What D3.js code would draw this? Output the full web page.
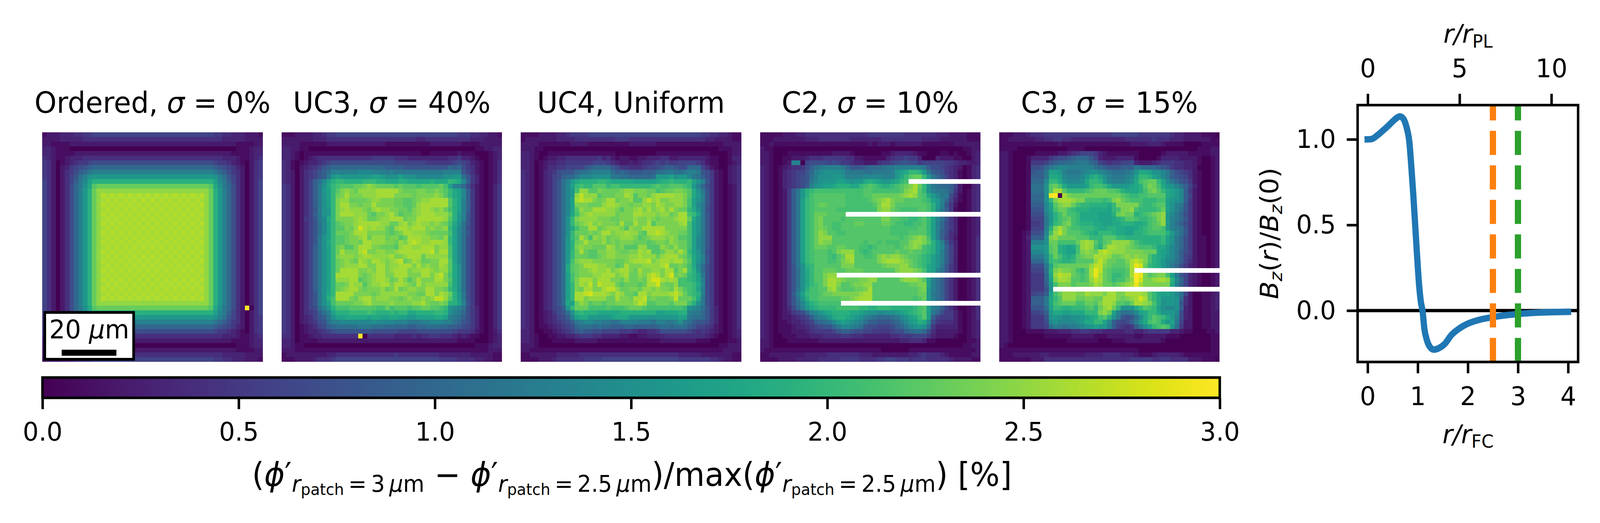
<!DOCTYPE html>
<html><head><meta charset="utf-8">
<script src="https://cdnjs.cloudflare.com/ajax/libs/d3/7.8.5/d3.min.js"></script>
<style>html,body{margin:0;padding:0;background:#fff;width:100%;height:100%;overflow:hidden}svg{display:block;width:100vw;height:100vh}text{font-family:"DejaVu Sans";fill:#000;white-space:pre}</style>
</head><body><svg id="c" viewBox="0 0 4269 1340" preserveAspectRatio="none"></svg>
<script>
// Each character is one cell, value = index in levelChars x 0.1 (percent); Q = 2.65; "." = no data.
const levelChars = "0123456789abcdefghijklmnopqrstu";
const panelTitles = [["Ordered, ","σ"," = 0%"],["UC3, ","σ"," = 40%"],["UC4, Uniform"],["C2, ","σ"," = 10%"],["C3, ","σ"," = 15%"]];

const gridOrdered = [
"122233344556 6666666666666666666666666 655443332221",
"222233333444 4444444444444444444444444 444333332222",
"221111222222 2222222222222222222222222 222222111122",
"332111000000 0000000000000000000000000 000000111233",
"332111122222 2222222222222222222222222 222221111233",
"432112333444 4444444444444444444444444 444333211234",
"542012345567 7777777777777777777777777 765543210245",
"54202356789a aaaaaaaaaaaaaaaaaaaaaaaaa a98765320245",
"542024579acd ddddddddddddddddddddddddd dca975420245",
"54202468bdfg ggggggggggggggggggggggggg gfdb86420245",
"64202469cehj jjjjjjjjjjjjjjjjjjjjjjjjj jhec96420246",
"6420247acfim nnnnnnnnnnnnnnnnnnnnnnnnn mifca7420246",
"6420247adgjn ppppppppppppppppppppppppp njgda7420246",
"6420247adgjnp QqQqQqQqQqQqQqQqQqQqQqQ pnjgda7420246",
"6420247adgjnp qQqQqQqQqQqQqQqQqQqQqQq pnjgda7420246",
"6420247adgjnp QqQqQqQqQqQqQqQqQqQqQqQ pnjgda7420246",
"6420247adgjnp qQqQqQqQqQqQqQqQqQqQqQq pnjgda7420246",
"6420247adgjnp QqQqQqQqQqQqQqQqQqQqQqQ pnjgda7420246",
"6420247adgjnp qQqQqQqQqQqQqQqQqQqQqQq pnjgda7420246",
"6420247adgjnp QqQqQqQqQqQqQqQqQqQqQqQ pnjgda7420246",
"6420247adgjnp qQqQqQqQqQqQqQqQqQqQqQq pnjgda7420246",
"6420247adgjnp QqQqQqQqQqQqQqQqQqQqQqQ pnjgda7420246",
"6420247adgjnp qQqQqQqQqQqQqQqQqQqQqQq pnjgda7420246",
"6420247adgjnp QqQqQqQqQqQqQqQqQqQqQqQ pnjgda7420246",
"6420247adgjnp qQqQqQqQqQqQqQqQqQqQqQq pnjgda7420246",
"6420247adgjnp QqQqQqQqQqQqQqQqQqQqQqQ pnjgda7420246",
"6420247adgjnp qQqQqQqQqQqQqQqQqQqQqQq pnjgda7420246",
"6420247adgjnp QqQqQqQqQqQqQqQqQqQqQqQ pnjgda7420246",
"6420247adgjnp qQqQqQqQqQqQqQqQqQqQqQq pnjgda7420246",
"6420247adgjnp QqQqQqQqQqQqQqQqQqQqQqQ pnjgda7420246",
"6420247adgjnp qQqQqQqQqQqQqQqQqQqQqQq pnjgda7420246",
"6420247adgjnp QqQqQqQqQqQqQqQqQqQqQqQ pnjgda7420246",
"6420247adgjnp qQqQqQqQqQqQqQqQqQqQqQq pnjgda7420246",
"6420247adgjnp QqQqQqQqQqQqQqQqQqQqQqQ pnjgda7420246",
"6420247adgjnp qQqQqQqQqQqQqQqQqQqQqQq pnjgda7420246",
"6420247adgjnp QqQqQqQqQqQqQqQqQqQqQqQ pnjgda7420246",
"6420247adgjn ppppppppppppppppppppppppp njgda7420246",
"6420247acfim nnnnnnnnnnnnnnnnnnnnnnnnn mifca742u046",
"64202469cehj jjjjjjjjjjjjjjjjjjjjjjjjj jhec96420246",
"54202468bdfg ggggggggggggggggggggggggg gfdb86420245",
"542024579acd ddddddddddddddddddddddddd dca975420245",
"54202356789a aaaaaaaaaaaaaaaaaaaaaaaaa a98765320245",
"542012345567 7777777777777777777777777 765543210245",
"432112333444 4444444444444444444444444 444333211234",
"332111122222 2222222222222222222222222 222221111233",
"332111000000 0000000000000000000000000 000000111233",
"221111222222 2222222222222222222222222 222222111122",
"222233333444 4444444444444444444444444 444333332222",
"122233344556 6666666666666666666666666 655443332221"];

const gridUC3 = [
"1112222334 5566666666 6666666666 6666666665 554433221",
"2222222333 4444444444 4444444444 3344444444 443332222",
"2222111111 2222222222 2221111111 1112222222 111122222",
"3322110000 0000000000 0000000000 0000000000 000112233",
"3321011111 1111111111 1111111111 1001111112 111000123",
"3321012344 4444444444 5555544433 3333333445 332100123",
"4310123345 6777777777 7777766666 6655555567 653210124",
"4310234568 9aaaaaaaaa aaa9999888 8888888a9a 754210124",
"4320245689 bddddddeee dddcdccccc ccccccdddd 864210124",
"4320245689 cghggggggg hhgfffhfff eeeeeeffgg b85310124",
"43202469be hjkkjjjjkk kjjiiijjii iiijiiikji e95310124",
"54202469cf iklmmmnnop onnnnmnmmm lmmmmnlhdc a74210135",
"54202469cg hkmoponppp pqqqqqonnn oonnonmkih e95210135",
"54202469cf hknoqooopp pqqqqoooon oooopomkih e95210135",
"54202469cf hkoppnnnno ppooonnmmn oppqqqqmjh d95210135",
"54202469cf hkoqqoonoo qoooonnmmn pqqqqqqmjh d95210135",
"54202468cf gkopqpppon pqppoonnmo pqqpopnljh d95210135",
"54202469cf gkoqqqpppn moopqomnno pqqqpppnjg d85210135",
"54202568ce ikoooopqpn noppqqqnoo qqqqqqpmjg d85210135",
"54202468be hkmnoopqqq qqppnnpqop qppoponlif b85210135",
"54202468be hkmmonpsqp qppnmpqqpq qqopoopkhe b75210135",
"54202468be hknnnoqqqo ooonmnoqqp pponnnnlhe b85210135",
"54202468cf hkmmnoopqn pppnoomnqq qppoonpkhe b75210135",
"54202468cf ikmmnoonqq pppoonpoqr qppqqqpkhe b75210135",
"54202469cf hknommoqqq oonnnmpqqp pqqqopplhe b75210135",
"54202469cf hknqoooqro oppoopqqqq qqqroqqlhe b75210135",
"54202469cf hkopppopqq ppppqoopqq qnppppplhe b75210135",
"54202469cf hknoponqpo qqpopqrnoq pnnooqqmhe b75210135",
"54202469cf hknopppqqo oqqoppqqqo qopooqpmif b75210135",
"54202469cf hknqqqqoop oqqopqqqop pqqpoppmif b75210135",
"54202469cf hkqqqqqono pqqooqqqoo oqqoqrolif b75210135",
"54202469cf hkpppqqmno pqqpnoqomo qoooqqomif b75210135",
"54202469cf hknnoqppmo ppqqoqqpon qoppppplif b75210135",
"54202469cf hknopqqono oopnoqnopp ooqqoonkif b75210135",
"54202468cf ikqqqqoooo noppppppoo nnqqoqpnjg c75210135",
"54202468cf jlqqqonpqq opppoonopo opoprrpmjg c75210135",
"54202468cf hlnnnnoopq oooopoooop pqonnonjjh d85210135",
"54202467bd gjlllmmmmm mllnlmmmlm mnnmmlkfed b75310135",
"5420245 69b dhjjjkkkkl kjjjkjkkii jjjjkkjfdc a75310135",
"5420234689 cfhhiiiiih iihhiihhgg hhhhiihdcb 975310135",
"5420234578 bddeeeeeee feeeedddcc cddeeeddba 875310135",
"5420123467 9abbbbbccc bbbaaaaa99 aabbbaa998 765310135",
"5420123345 6788888888 7777776666 7777777765 554210124",
"4420112334 4444444u04 4444433334 3445544432 321100123",
"3320111122 2222222222 2222222222 2222222221 111000123",
"3321100000 0000000000 0000000000 0000000000 000111233",
"2221111111 1111111111 1111111111 1111111111 111111222",
"1222222222 3344444444 4444454444 4444433333 332222211",
"1112222344 4566666666 6666666666 6666655554 444332211"];

const gridUC4 = [
"1111222233 4555566666 6666666666 6666666666 554433211",
"1222222233 3344444444 4555444444 4444444444 433222211",
"2222111111 1222211111 1111222222 1111111111 111112222",
"2221100000 0000000000 0000000000 0000000000 000011122",
"3321001111 1111111111 1000000000 1111111111 110000122",
"3321012233 4444444534 2122112233 3442233333 321100133",
"3320123344 5555556665 4322323445 6565566665 421100123",
"3320124455 666689aaaa 8755444566 7899877aaa 642100234",
"4320134578 88abbcdddd b9a9888999 bbccbbcddc 875210234",
"4320134679 aaceeeffff ccbbaaaaab ggghfggecb 975210234",
"432013468b dgijjjjkkj iiiiihhhhh ijjkjjjkhf d85210234",
"432013468b ehklkkmmmk llkkkkkkkl mllmmmlkgd a75210124",
"432013468b eglppmmonn nnoppooonn lmnnoonmif c85210124",
"432013468b egprpppmnn nooqpmoonp qqqqppomig d85210124",
"432013468b ehqrqqonoq qnoopmmprp qoopppolhf d85210124",
"432013468b ehooonnnpq qpoonooppo qpooppolhe c85210124",
"432013468b ehmpooqqqp pomoopqoqo pqoqonnkif c75210124",
"432013468b eilopqpppp pnoooqqppp oppnoqqlkh c85210124",
"432013468b fkoppppooo nnooopoopo nooopqqnif c85210124",
"432013468b fknopqopoo onqnnqooqm ooooopqlhf c85210124",
"432013468b filnnqqnop ppompooqqq qqooooolhf c85210124",
"432013468b fknnnonoqq oppqppnmqq rqpoonnlhf c85210124",
"432013468b gkmqolpopn oopppomnop ppopommlhe c85210124",
"432013468b gjnoqooopn onooonnnmn oonponnlhe c85210124",
"432013468b gjopoonnnq pnommmppmm mponpnnlhe c85210124",
"432013468b gknqnmmoop ponnooqpqm mnppoqokhf c75210124",
"432013468b gknnnmmnop poooppqppp npqqqonlig d85210124",
"432013468b glopppoooo onnopqqqro pqqpqqomif d85210124",
"432013468b imnoqqqppo omnqoooppp pqrnnonlie b75210124",
"432013468b imnoopqppq opqqonqoop poqqmoqljf b75210124",
"432013468b hlnoooppqq qopqnnpoqr qoqsnonkjh c75210124",
"432013468b hloqqqoqqq oonpnnonqs sqpqpllkjh d75210124",
"432013468b hkoqprorqq qnmnnnmnqq sonnplllki e75210124",
"432013468b hkonqqooqr rpnnoonppo poonqomlkh d75210124",
"432013468b hkqqrsqqqp oqpnnmqqop pppqrpnlkj d75210124",
"432013468b hkqqoppppn nqoonqqrno nnnornnnli c75210124",
"432013468b ihnpomnnmn nooooprqmm nnnmoooljf c75210124",
"4320134679 gknnnllllm lllmnnnmll llllllkfed b85310124",
"4320123578 bfjkjjjiii iijjjjjjjj hhiiijjdcc a85310124",
"4320123467 9dhiiggggg hiiiggggff ggggghhcbb a85310124",
"4320123456 79cdeeddcc bbddddcccb ddccdfcb98 875310124",
"4320112345 67abbbabaa 999aa99999 abbabbb986 654210124",
"3320011234 5689887766 6655543344 5777777654 543210123",
"3321001122 3345554433 3322112233 3344444444 432100123",
"3321000111 1122222111 1111111111 1222222221 110000112",
"2221000000 0000000000 0000000000 0000000000 000011222",
"2211111111 1111111111 1111111111 1111111111 111112222",
"1122222233 3334444444 4444444444 4444433333 222222211",
"1111222344 4444555566 6666666666 6666655555 554432211"];

const gridC2 = [
"1111122233 4444444444 4444555555 5544444443 332222111",
"1112222222 3334444444 3333333444 4444443333 222222111",
"1121111111 1111111111 1111212221 2222221111 111222222",
"2110000000 0000000000 0000000000 0000000000 000001122",
"2210001111 1111112222 1000000112 3333211000 110100123",
"2210011222 3444555554 4221111134 5565530003 222110023",
"2210012dd0 6777767655 4332224556 7887756666 655433223",
"3210123445 79bcddddca 8889aaabcc ddddddc977 654320134",
"3210134566 8adeffffec cccbbccccd ghikkjgc98 754310134",
"3210134567 8bdfffggfd dddeeeeddd gikmnnkgca 864310134",
"3210134567 8cefggghhg fggijihggh ikl....... .........",
"3210134567 9dfghhijjj iiklmlkjjk lmnoqnkfcb aa9620034",
"32101259cg jkllllllll lllmmlllll lmopqmkfdc cb9520134",
"32101259cg jlmmmmmmml lllmmnnnnn nopqpmlige cc7410134",
"32101259ch klmmmmmmml llllmnopqo nnmmmmlkhg da6310134",
"32101259ch klmnnmmmml lllllmoqqo mmmmmmmljg d85200134",
"32101259ch klmmmmmlll lllllloppn mllllmmljf c95100134",
"32101259ch klnnnmmmm. .......... .......... .........",
"32101259ch klnommmmlm mmmmmmmoom mllkklmkhe b85300123",
"32101259ch klnommllmm mnnmmmmnnm llkkllmkhd a75300123",
"32101259ch klnonmllmm mmmmmmmmml lllllmmkhd a75300123",
"32101259ch klnpommllm mmmmmmmmml lllmmmmkhd 974300123",
"32101259ch klnpppmmmm mmmmmmmmmm mlmnopolhd 964200124",
"32101259ch klnpoommmm mmmlmmlmll lmmoppomjg d85300124",
"32101259ch klnnnmmnnm mmllklmmmm lmnopolkjg e96300124",
"32101259ch klmmmlmopp pmlklmmmmm nmmnmmlkjg d96300124",
"32101259ch klmmmlkmnq qmmllmopop ponmmlkjhf d96300124",
"32101259ch klmmmllmop qmmmmmopqq qponmlkjhf d96300124",
"32101258cf jkmmmmmmoo ommmmmmnoo oppnmlkihf c85300124",
"32101258bf ikmmnnnmmn nnnmmmmmmm oppponlihd b85300124",
"32101258bf ikmmopp... .......... .......... .........",
"32101258bf ikmmoqqpon nnooppmmmm mopppomhdb 964200124",
"32101258bf iklmoqqomm nooppmmmmm mmmnnoohdb 964200124",
"32101258cf jllmmpqnmm mnnoqmmmmm mmmmmnogdb 964200124",
"32101259dh kllmnnoooo oopqqmmmmm mmmmmnngcb 964200124",
"32101258cg jllmmmmmnn opqqqmmmmm mmmmlmngdb 964200124",
"32101258be hjklllll.. .......... .......... .........",
"32101247ad gijkkkklll llkkjjkkkj jjjjklmhdc 964200124",
"3210123567 adeghijjjj iihgffeeff ghijklmhca 755310124",
"3210122345 69cdegijji hgfdcbaaab cefhikmh96 555310124",
"3210112334 569abceghg fedb998889 aceghjie75 444310123",
"3210111233 456788acee dcb8776667 9acefgfb53 333310123",
"3210111222 3455556899 8776655556 779abba742 222210123",
"3210011122 2333444455 4443333334 4555666532 222100123",
"2210001111 1112222222 2222222222 2334443110 000000112",
"2210000000 0000000000 0000000000 0000000000 000001122",
"2111111111 1111111111 1111111000 0001111111 111111112",
"1122222222 3333344444 4433322222 2223345444 321111122",
"1111222233 3334444455 5544445566 5554555444 443222211"];

const gridC3 = [
"1112223444 5555555555 5555566666 6555555543 322221110",
"1122222233 4455443333 3333333344 4444544433 322222211",
"1111111111 1112111111 1111111112 2223332111 100001111",
"1111000000 0000011110 0000000000 0000000000 000011122",
"2210000011 1112234566 6532111111 1000001222 221111122",
"2210001333 3567789aaa 8632223333 1000013333 222210012",
"2210001555 689aabbccc a965455667 3222345554 433210012",
"2210001778 acdeeddddd dba9888999 cbaaa98754 433200012",
"2210001899 chhgdcccde ffedcbbbcd fiihffec97 654210012",
"2210001999 ciihedddeg ijhfdcccde hkkjhgec98 764210012",
"2210001aaa ekkifeeefi kkjgedddef ilmnnkheca 875210012",
"2210001bbb fmnliggggh kllkiggggh ijmonligfd b96310012",
"2210001bbb fmqqmkkkkl mnnnmmljii ijlnomkihg e95210012",
"2210001aaa fuu0qonnnn nnnnnnnmlk kllmmmmihg e96210012",
"2210001aaa fkoqqqpool lllklopnml llkkkllhgf e95210012",
"2210001999 ehmoppnlkk jjjjikoooo olkklmmhfd c85210012",
"2210001888 ehlnnlkjjj iiiihkloop lkkkklnhfd b85210012",
"2210001777 dgjlnllkii iihhhjnonn jklmnopgec a75210012",
"2210001666 cgjlmnlkii iihhhijkmm lkklmopgdc a85210012",
"2210001556 cgklnolkjj jiihhiijjj iijlmnpgdb 975210012",
"2210001666 djoqomllkk kjiijjiihh ijklmmlgdc b85210012",
"2210012778 elprommmlk jikkkjiihh jjklllljgd b85210012",
"2210013999 fopnnnnmmm kkkmmmkkjj jjjjjjkhfc a75211012",
"2210012ddd fnnllllnpq pmkmnppppn lkjjjjkhfc a75211012",
"2210012fff gmnjihilpq pljnqqppon mlllkiigec a75211012",
"2210012eee gmnjihhlop onqrqpppoo oonnnihgec 975211012",
"2210012ccc fknljijmno oqqqpnnopo pooljihfec 965211012",
"2210012aaa eklkjjkmmm mprpnnmmoq rqoljigedb 964211012",
"2210012777 cimnnnnnnn prronmmmnq tsnkjigeca 753211012",
"2210012666 bjopoonlkm qtrnmlllmq .......... .........",
"2210012555 aiprqqnmlm qtqnmkklmq utomnoolhc 863210012",
"2210012555 ahoqqpmmlm prqnmkllnp usoopqqpje a63210012",
"2210012555 9glooomnnn oqpnnmnopq tqooooooid 963210012",
"2210012555 8f........ .......... .......... .........",
"2210012677 9hlnpppooq pppoqqooqq qqpmkihhge b62001123",
"2210012999 cikmpppnno onnqqqonop qsqmkigggf a42001123",
"2210012999 cilmnnnlln nmoqqpmmln qqpolifggf 842001123",
"2210012888 bhkkjjkkkl mknpqnkfff ikmlkhfeef 932001123",
"2210012667 9giihhiiik kkopnhdbbc ehikkiggge 732001122",
"2210012555 8fgfeeffgh ijlmjfc878 beikmlkigd 732001122",
"2210012555 7efeeeefgi ikkhe97679 cgilmlighc 622001122",
"2210012555 6bdcbccdef ghggd96545 9cfhklmlgb 522001122",
"2210001111 2223334455 4443333344 3345555533 211000112",
"2210000000 1111112222 2111222222 1122222111 000000011",
"2210000000 0000011111 1100011122 2222221000 000000011",
"2100000000 0000000000 0000000000 0000000000 000000011",
"1111111111 1111111111 1111111111 1000000000 000000011",
"1112222223 3222222223 3334444333 2111233333 211111111",
"1111111222 4444444444 4444444445 5555445544 442221110"];

const colorbarTicks = [0,0.5,1,1.5,2,2.5,3];
const profileR = [0,0.08,0.2,0.3,0.404,0.5,0.58,0.64,0.7,0.777,0.832,0.878,0.911,0.948,0.985,1.026,1.063,1.095,1.133,1.179,1.225,1.322,1.41,1.527,1.68,1.826,2.01,2.24,2.5,3,3.4,4];
const profileB = [1,1.002,1.025,1.05,1.077,1.105,1.125,1.134,1.125,1.07,0.985,0.815,0.676,0.502,0.328,0.153,0.049,0,-0.108,-0.169,-0.204,-0.228,-0.221,-0.198,-0.14,-0.105,-0.075,-0.053,-0.038,-0.02,-0.012,-0.007];
const markerR = [2.5,3];
const markerColors = ["#ff7f0e","#2ca02c"];
const bottomTicks = [0,1,2,3,4], topTicks = [0,5,10], leftTicks = [0,0.5,1];

const svg = d3.select("#c");
const viridis = d3.scaleSequential(d3.interpolateViridis).domain([0,3]);
const SP = 6.67;

function math(sel, segs){ // segs: [text, italic, size, baselineOffset]
  let prev = 0;
  segs.forEach(s=>{
    const t = sel.append("tspan").text(s[0]).attr("font-size",s[2]);
    if(s[1]) t.attr("font-style","italic");
    t.attr("dy", (s[3]||0)-prev); prev = s[3]||0;
  });
  return sel;
}

// Heat maps
const grids = [gridOrdered,gridUC3,gridUC4,gridC2,gridC3];
const panelX = d3.scaleLinear().domain([0,1]).range([113,751.25]);
const cellScale = d3.scaleBand().domain(d3.range(49)).range([0,588]);
grids.forEach((g,i)=>{
  const rows = g.map(s=>s.replace(/ /g,""));
  const cells = [];
  rows.forEach((r,y)=>{ for(let x=0;x<49;x++){ const ch=r[x]; if(ch&&ch!==".") cells.push({x,y,v:ch==="Q"?2.65:levelChars.indexOf(ch)*0.1}); }});
  const g0 = svg.append("g").attr("transform",`translate(${panelX(i)},339)`);
  g0.selectAll("rect").data(cells).join("rect")
    .attr("x",d=>cellScale(d.x)).attr("y",d=>cellScale(d.y))
    .attr("width",cellScale.bandwidth()+0.3).attr("height",cellScale.bandwidth()+0.3)
    .attr("fill",d=>viridis(d.v)).attr("shape-rendering","crispEdges");
  const t = svg.append("text").attr("x",panelX(i)+294).attr("y",289).attr("text-anchor","middle");
  panelTitles[i].forEach(p=>{ const ts=t.append("tspan").text(p).attr("font-size",75); if(p==="σ") ts.attr("font-style","italic"); });
});

// Scale bar
svg.append("rect").attr("x",119.5).attr("y",800.5).attr("width",237).attr("height",120).attr("fill","#fff").attr("stroke","#000").attr("stroke-width",7);
svg.append("text").attr("x",238).attr("y",867.5).attr("text-anchor","middle").call(math,[["20 ",0,66.67],["μ",1,66.67],["m",0,66.67]]);
svg.append("rect").attr("x",164.6).attr("y",896).attr("width",146).attr("height",15.5).attr("fill","#000");

// Colour bar
const cbX = d3.scaleLinear().domain([0,3]).range([113.3,3254.5]);
svg.append("g").selectAll("rect").data(d3.range(256)).join("rect")
  .attr("x",d=>cbX(d/256*3)).attr("y",967.3).attr("width",cbX(3/256)-cbX(0)+0.6).attr("height",52)
  .attr("fill",d=>viridis((d+0.5)/256*3)).attr("shape-rendering","crispEdges");
svg.append("rect").attr("x",113.3).attr("y",967.3).attr("width",3141.2).attr("height",52).attr("fill","none").attr("stroke","#000").attr("stroke-width",SP);
const cbAxis = svg.append("g").attr("transform","translate(0,1019.3)").call(d3.axisBottom(cbX).tickValues(colorbarTicks).tickFormat(d3.format(".1f")).tickSize(29).tickPadding(33.4));
function styleAxis(a){
  a.select(".domain").remove();
  a.selectAll("line").attr("stroke","#000").attr("stroke-width",SP);
  a.selectAll("text").attr("font-size",66.67).attr("font-family","DejaVu Sans").attr("fill","#000");
}
styleAxis(cbAxis);
const M=83.33,S=58.3,SS=40.8;
const subA=[["r",1,S,15],["patch",0,SS,23],["\u2009=\u20093\u2009",0,S,15],["μ",1,S,15],["m",0,S,15]];
const subB=[["r",1,S,15],["patch",0,SS,23],["\u2009=\u20092.5\u2009",0,S,15],["μ",1,S,15],["m",0,S,15]];
svg.append("text").attr("x",1686).attr("y",1245).attr("text-anchor","middle").call(math,[
  ["(",0,M],["ϕ",1,M],["′",0,M],...subA,[" − ",0,M,0],["ϕ",1,M,0],["′",0,M,0],...subB,
  [")/max(",0,M,0],["ϕ",1,M,0],["′",0,M,0],...subB,[") [%]",0,M,0]]);

// Profile panel
const L=3622.3,R=4210.6,T=269.3,B=927.4;
const px = d3.scaleLinear().domain([-0.2,4.2]).range([L,R]);
const pxTop = d3.scaleLinear().domain([(L-3649.3)/49,(R-3649.3)/49]).range([L,R]);
const py = d3.scaleLinear().domain([-0.3,1.2]).range([B,T]);
svg.append("clipPath").attr("id","ax").append("rect").attr("x",L).attr("y",T).attr("width",R-L).attr("height",B-T);
const plot = svg.append("g").attr("clip-path","url(#ax)");
plot.append("line").attr("x1",L).attr("x2",R).attr("y1",py(0)).attr("y2",py(0)).attr("stroke","#000").attr("stroke-width",8.33);
plot.append("path").attr("d",d3.line().x((d,i)=>px(profileR[i])).y(d=>py(d)).curve(d3.curveMonotoneX)(profileB))
  .attr("fill","none").attr("stroke","#1f77b4").attr("stroke-width",16.67).attr("stroke-linecap","square").attr("stroke-linejoin","round");
markerR.forEach((m,i)=>plot.append("line").attr("x1",px(m)).attr("x2",px(m)).attr("y1",B).attr("y2",T)
  .attr("stroke",markerColors[i]).attr("stroke-width",16.67).attr("stroke-dasharray","61.7 26.7"));
svg.append("rect").attr("x",L).attr("y",T).attr("width",R-L).attr("height",B-T).attr("fill","none").attr("stroke","#000").attr("stroke-width",SP);
styleAxis(svg.append("g").attr("transform",`translate(0,${B})`).call(d3.axisBottom(px).tickValues(bottomTicks).tickFormat(d3.format("d")).tickSize(29).tickPadding(34.4)));
styleAxis(svg.append("g").attr("transform",`translate(0,${T})`).call(d3.axisTop(pxTop).tickValues(topTicks).tickFormat(d3.format("d")).tickSize(29).tickPadding(42.8)));
styleAxis(svg.append("g").attr("transform",`translate(${L},0)`).call(d3.axisLeft(py).tickValues(leftTicks).tickFormat(d3.format(".1f")).tickSize(29).tickPadding(29)));
const A=66.67,AS=46.7;
svg.append("text").attr("x",3917).attr("y",1136).attr("text-anchor","middle").call(math,[["r/r",1,A],["FC",0,AS,11.3]]);
svg.append("text").attr("x",3917).attr("y",110).attr("text-anchor","middle").call(math,[["r/r",1,A],["PL",0,AS,11.7]]);
svg.append("text").attr("transform","translate(3410,598) rotate(-90)").attr("text-anchor","middle").call(math,[
  ["B",1,A],["z",1,AS,11],["(",0,A,0],["r",1,A,0],[")/",0,A,0],["B",1,A,0],["z",1,AS,11],["(0)",0,A,0]]);
</script></body></html>
